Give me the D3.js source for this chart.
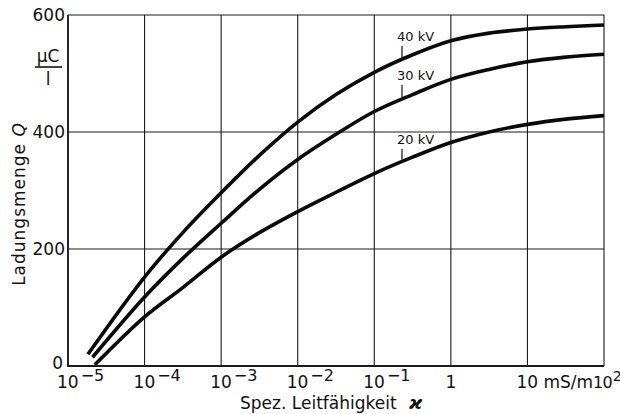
<!DOCTYPE html>
<html><head><meta charset="utf-8">
<script src="https://cdn.jsdelivr.net/npm/d3@7"></script>
<style>
body{margin:0;background:#fff}
svg text{font-family:"DejaVu Sans",sans-serif;fill:#111}
</style>
</head><body>
<svg id="chart" width="620" height="414"></svg>
<script>
// ---- data ----
const xTicks = [1e-5, 1e-4, 1e-3, 1e-2, 1e-1, 1, 10, 100];
const xTickBase = ["10", "10", "10", "10", "10", "1", "10", "10"];
const xTickExp = ["-5", "-4", "-3", "-2", "-1", "", "", "2"];
const xTickUnit = ["", "", "", "", "", "", " mS/m", ""];
const yTicks = [0, 200, 400, 600];

const seriesNames = ["40 kV", "30 kV", "20 kV"];
const x40 = [1.82e-5, 1e-4, 3.16e-4, 1e-3, 3.16e-3, 1e-2, 3.16e-2, 1e-1, 0.316, 1, 3.16, 10, 31.6, 100];
const q40 = [20, 152, 228, 296, 360, 417, 464, 502, 532, 556, 569, 576, 580, 583];
const x30 = [2.09e-5, 1e-4, 3.16e-4, 1e-3, 3.16e-3, 1e-2, 3.16e-2, 1e-1, 0.316, 1, 3.16, 10, 31.6, 100];
const q30 = [15, 118, 184, 244, 302, 353, 396, 435, 464, 490, 507, 520, 528, 533];
const x20 = [2.24e-5, 1e-4, 3.16e-4, 1e-3, 3.16e-3, 1e-2, 3.16e-2, 1e-1, 0.316, 1, 3.16, 10, 31.6, 100];
const q20 = [2, 84, 134, 186, 228, 264, 297, 329, 357, 382, 400, 413, 422, 428];
const labelX = 0.23; // conductivity where the label leader touches the curve

// ---- layout ----
const svg = d3.select("#chart");
const L = 68, R = 604, T = 15, B = 366;
const x = d3.scaleLog().domain([1e-5, 100]).range([L, R]);
const y = d3.scaleLinear().domain([0, 600]).range([B, T]);

// grid
const g = svg.append("g");
g.selectAll("line.vx").data(xTicks).join("line")
  .attr("x1", d => x(d)).attr("x2", d => x(d)).attr("y1", T).attr("y2", B)
  .attr("stroke", "#1a1a1a").attr("stroke-width", 1.1);
g.selectAll("line.hy").data(yTicks).join("line")
  .attr("x1", L).attr("x2", R).attr("y1", d => y(d)).attr("y2", d => y(d))
  .attr("stroke", "#1a1a1a").attr("stroke-width", d => d === 0 ? 2 : 1.1);
g.append("line").attr("x1", L).attr("x2", L).attr("y1", T).attr("y2", B + 1)
  .attr("stroke", "#111").attr("stroke-width", 1.6);

// y tick labels
svg.append("g").selectAll("text").data(yTicks).join("text")
  .attr("x", d => d === 0 ? 63 : 65).attr("y", d => y(d) - (d === 0 ? 3 : 0)).attr("dy", "0.36em")
  .attr("text-anchor", "end").attr("font-size", 17).text(d => d);

// x tick labels
const tickData = xTicks.map((v, i) => ({v, base: xTickBase[i], exp: xTickExp[i], unit: xTickUnit[i], last: i === xTicks.length - 1}));
const xt = svg.append("g").selectAll("text").data(tickData).join("text")
  .attr("font-size", d => d.last ? 16 : 17).attr("y", 388)
  .attr("letter-spacing", d => d.last ? -0.8 : 0)
  .attr("x", d => d.base === "1" ? x(d.v) : x(d.v) - 11)
  .attr("text-anchor", d => d.base === "1" ? "middle" : "start");
xt.append("tspan").text(d => d.base);
xt.filter(d => d.unit !== "").append("tspan").text(d => d.unit);
xt.filter(d => d.exp !== "").append("tspan")
  .attr("dy", -7).attr("dx", d => d.last ? 1 : 2).attr("font-size", d => d.last ? 14 : 16)
  .text(d => d.exp.replace("-", "\u2212"));

// axis titles
svg.append("text").attr("x", 240).attr("y", 409).attr("font-size", 17)
  .text("Spez. Leitfähigkeit");
svg.append("text").attr("x", 409).attr("y", 409).attr("font-size", 18)
  .attr("font-style", "italic").attr("font-weight", "bold").text("ϰ");

svg.append("text").attr("transform", "translate(25,204) rotate(-90)")
  .attr("text-anchor", "middle").attr("font-size", 17).attr("letter-spacing", 1)
  .text("Ladungsmenge ").append("tspan").attr("font-style", "italic").text("Q");

// unit µC / l
svg.append("text").attr("x", 48).attr("y", 62).attr("text-anchor", "middle")
  .attr("font-size", 17).text("µC");
svg.append("line").attr("x1", 35).attr("x2", 62).attr("y1", 67).attr("y2", 67)
  .attr("stroke", "#111").attr("stroke-width", 1.6);
svg.append("text").attr("x", 48).attr("y", 85).attr("text-anchor", "middle")
  .attr("font-size", 17).text("l");

// curves
const xsAll = [x40, x30, x20], qsAll = [q40, q30, q20];
const line = d3.line().x(d => x(d[0])).y(d => y(d[1])).curve(d3.curveCatmullRom.alpha(0.5));
svg.append("g").selectAll("path").data(xsAll.map((xs, i) => xs.map((v, j) => [v, qsAll[i][j]])))
  .join("path").attr("d", line).attr("fill", "none")
  .attr("stroke", "#0a0a0a").attr("stroke-width", 3.6).attr("stroke-linecap", "butt");

// labels with leaders
function qAt(xs, qs, xv) {
  const lx = Math.log10(xv);
  for (let j = 0; j < xs.length - 1; j++) {
    const a = Math.log10(xs[j]), b = Math.log10(xs[j + 1]);
    if (lx >= a && lx <= b) return qs[j] + (qs[j + 1] - qs[j]) * (lx - a) / (b - a);
  }
  return qs[qs.length - 1];
}
const labelBaselines = [41, 80, 144];
seriesNames.forEach((name, i) => {
  const cx = x(labelX);
  const cy = y(qAt(xsAll[i], qsAll[i], labelX));
  svg.append("text").attr("x", cx - 5).attr("y", labelBaselines[i]).attr("font-size", 13).text(name);
  svg.append("line").attr("x1", cx).attr("x2", cx).attr("y1", labelBaselines[i] + 5).attr("y2", cy - 2)
    .attr("stroke", "#111").attr("stroke-width", 1.2);
});
</script>
</body></html>
